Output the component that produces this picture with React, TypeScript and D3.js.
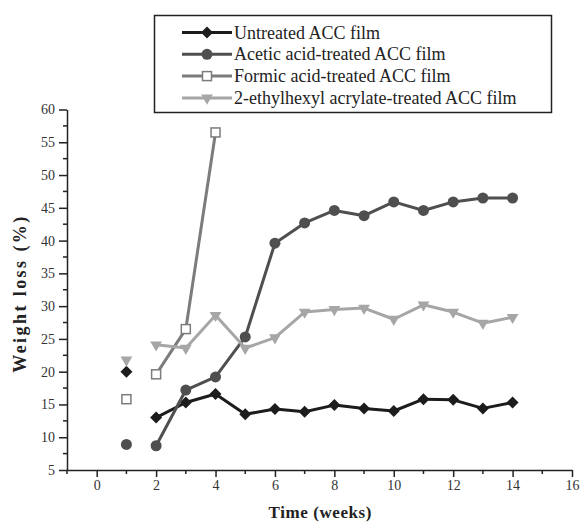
import React, { useRef, useEffect } from "react";
import * as d3 from "d3";

// semanas y valores
const weeks = [1, 2, 3, 4, 5, 6, 7, 8, 9, 10, 11, 12, 13, 14];
const untreated = [20.0, 13.0, 15.3, 16.6, 13.5, 14.3, 13.9, 14.9, 14.4, 14.0, 15.8, 15.7, 14.4, 15.3];
const acetic = [8.9, 8.7, 17.2, 19.2, 25.3, 39.6, 42.7, 44.6, 43.8, 45.9, 44.6, 45.9, 46.5, 46.5];
const formic = [15.8, 19.6, 26.5, 56.5];
const ethylhexyl = [21.8, 24.1, 23.6, 28.6, 23.6, 25.2, 29.1, 29.5, 29.7, 28.0, 30.2, 29.1, 27.4, 28.3];

const seriesNames = [
  "Untreated ACC film",
  "Acetic acid-treated ACC film",
  "Formic acid-treated ACC film",
  "2-ethylhexyl acrylate-treated ACC film",
];
const yTicks = [5, 10, 15, 20, 25, 30, 35, 40, 45, 50, 55, 60];
const xTicks = [0, 2, 4, 6, 8, 10, 12, 14, 16];

const App = () => {
  const chartRef = useRef<HTMLDivElement>(null);

  useEffect(() => {
    document.body.style.margin = "0";
    createChart();
  }, []);

  const createChart = () => {
    const svgWidth = 584;
    const svgHeight = 523;
    const font = "'Liberation Serif', 'Times New Roman', serif";

    d3.select(chartRef.current).selectAll("svg").remove();

    const svg = d3
      .select(chartRef.current)
      .append("svg")
      .attr("width", svgWidth)
      .attr("height", svgHeight)
      .style("display", "block")
      .style("background", "#fff");

    const x = d3.scaleLinear().domain([-1, 16]).range([67, 572]);
    const y = d3.scaleLinear().domain([5, 60]).range([470, 109.5]);

    // ejes
    const xAxis = svg
      .append("g")
      .attr("transform", `translate(0,${y(5)})`)
      .call(d3.axisBottom(x).tickValues(xTicks).tickSize(7).tickSizeOuter(0).tickPadding(3));
    xAxis
      .selectAll(".minor")
      .data(d3.range(-1, 17, 2))
      .enter()
      .append("line")
      .attr("x1", (d) => x(d))
      .attr("x2", (d) => x(d))
      .attr("y1", 0)
      .attr("y2", 4)
      .attr("stroke", "#222")
      .attr("stroke-width", 1.5);

    const yAxis = svg
      .append("g")
      .attr("transform", `translate(${x(-1)},0)`)
      .call(d3.axisLeft(y).tickValues(yTicks).tickSize(8).tickSizeOuter(0).tickPadding(4));
    yAxis
      .selectAll(".minor")
      .data(d3.range(7.5, 60, 5))
      .enter()
      .append("line")
      .attr("x1", 0)
      .attr("x2", -4)
      .attr("y1", (d) => y(d))
      .attr("y2", (d) => y(d))
      .attr("stroke", "#222")
      .attr("stroke-width", 1.5);

    svg.selectAll(".domain").attr("stroke", "#222").attr("stroke-width", 1.5);
    svg.selectAll(".tick line").attr("stroke", "#222").attr("stroke-width", 1.5);
    svg
      .selectAll(".tick text")
      .attr("font-family", font)
      .attr("font-size", 14)
      .attr("fill", "#333");

    svg
      .append("text")
      .attr("transform", `translate(26,${(y(5) + y(60)) / 2 + 5}) rotate(-90)`)
      .attr("text-anchor", "middle")
      .attr("font-family", font)
      .attr("font-weight", "bold")
      .attr("font-size", 18)
      .attr("fill", "#222")
      .attr("textLength", 156)
      .attr("lengthAdjust", "spacing")
      .text("Weight loss (%)");

    svg
      .append("text")
      .attr("x", 320)
      .attr("y", 518)
      .attr("text-anchor", "middle")
      .attr("font-family", font)
      .attr("font-weight", "bold")
      .attr("font-size", 17)
      .attr("fill", "#222")
      .attr("textLength", 103)
      .attr("lengthAdjust", "spacing")
      .text("Time (weeks)");

    const series = [
      { name: seriesNames[0], values: untreated, color: "#1c1c1c", marker: "diamond" },
      { name: seriesNames[1], values: acetic, color: "#4f4f4f", marker: "circle" },
      { name: seriesNames[2], values: formic, color: "#7c7c7c", marker: "square" },
      { name: seriesNames[3], values: ethylhexyl, color: "#a6a6a6", marker: "triangle" },
    ];

    const drawMarker = (g, marker, color, cx, cy) => {
      if (marker === "diamond") {
        g.append("path")
          .attr("d", d3.symbol(d3.symbolSquare, 72)())
          .attr("transform", `translate(${cx},${cy}) rotate(45)`)
          .attr("fill", color);
      } else if (marker === "circle") {
        g.append("circle").attr("cx", cx).attr("cy", cy).attr("r", 5.5).attr("fill", color);
      } else if (marker === "square") {
        g.append("rect")
          .attr("x", cx - 4.5)
          .attr("y", cy - 4.5)
          .attr("width", 9)
          .attr("height", 9)
          .attr("fill", "#fff")
          .attr("stroke", color)
          .attr("stroke-width", 1.5);
      } else {
        g.append("path")
          .attr("d", d3.symbol(d3.symbolTriangle, 60)())
          .attr("transform", `translate(${cx},${cy}) rotate(180)`)
          .attr("fill", color);
      }
    };

    const line = d3
      .line<[number, number]>()
      .x((d) => x(d[0]))
      .y((d) => y(d[1]));

    series.forEach((s) => {
      const g = svg.append("g");
      const pts: [number, number][] = s.values.map((v, i) => [weeks[i], v]);
      // la semana 1 queda suelta, la linea empieza en la semana 2
      g.append("path")
        .attr("d", line(pts.slice(1)))
        .attr("fill", "none")
        .attr("stroke", s.color)
        .attr("stroke-width", 3)
        .attr("stroke-linejoin", "round");
      pts.forEach((p) => drawMarker(g, s.marker, s.color, x(p[0]), y(p[1])));
    });

    // leyenda
    const legend = svg.append("g");
    legend
      .append("rect")
      .attr("x", 154.5)
      .attr("y", 15.5)
      .attr("width", 397)
      .attr("height", 97)
      .attr("fill", "#fff")
      .attr("stroke", "#222")
      .attr("stroke-width", 1.5);

    series.forEach((s, i) => {
      const cy = 32.5 + i * 21.8;
      const g = legend.append("g");
      g.append("line")
        .attr("x1", 182)
        .attr("x2", 232)
        .attr("y1", cy)
        .attr("y2", cy)
        .attr("stroke", s.color)
        .attr("stroke-width", 3);
      drawMarker(g, s.marker, s.color, 207, cy);
      g.append("text")
        .attr("x", 234)
        .attr("y", cy + 6)
        .attr("font-family", font)
        .attr("font-size", 18)
        .attr("fill", "#222")
        .text(s.name);
    });
  };

  return <div ref={chartRef}></div>;
};

export default App;
